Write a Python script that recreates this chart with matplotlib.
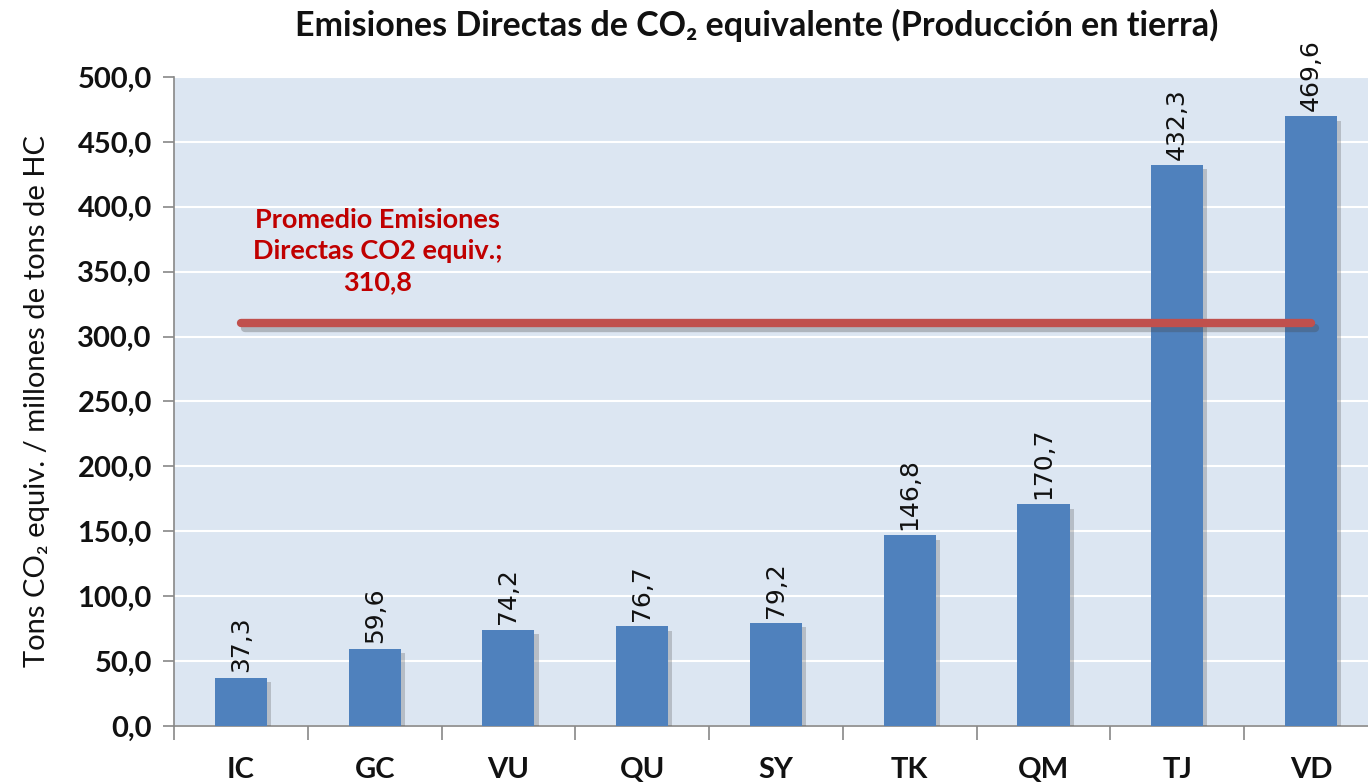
import matplotlib.pyplot as plt
import matplotlib.patheffects as pe
from matplotlib.ticker import MultipleLocator, FuncFormatter

categorias = ["IC", "GC", "VU", "QU", "SY", "TK", "QM", "TJ", "VD"]
emisiones = [37.3, 59.6, 74.2, 76.7, 79.2, 146.8, 170.7, 432.3, 469.6]
promedio = 310.8

azul = "#4F81BD"
rojo = "#C0504D"
fondo = "#DCE6F2"
fuente = ["Lato", "DejaVu Sans"]

fig = plt.figure(figsize=(13.68, 7.84), dpi=100)
ax = fig.add_axes([0.1272, 0.074, 0.880, 0.8278])
ax.set_facecolor(fondo)

x = range(len(categorias))
sombra = [pe.SimplePatchShadow(offset=(3, -3), shadow_rgbFace="#555555", alpha=0.28), pe.Normal()]
barras = ax.bar(x, emisiones, width=0.39, color=azul, zorder=3)
for b in barras:
    b.set_path_effects(sombra)

# etiquetas de valor, verticales sobre cada barra
for xi, v in zip(x, emisiones):
    ax.text(xi, v + 4, f"{v:.1f}".replace(".", ","), rotation=90, ha="center", va="bottom",
            fontsize=18, family="DejaVu Sans", color="#111111", zorder=4)

# línea del promedio
ax.plot([0, len(categorias) - 1], [promedio, promedio], color=rojo, lw=6,
        solid_capstyle="round", zorder=5,
        path_effects=[pe.SimpleLineShadow(offset=(3, -4), shadow_color="#444444", alpha=0.3), pe.Normal()])
ax.text(1.02, 366, "Promedio Emisiones\nDirectas CO2 equiv.;\n" + f"{promedio:.1f}".replace(".", ","),
        ha="center", va="center", color="#C00000", fontsize=19.5, fontweight="bold",
        family=fuente, linespacing=1.35, zorder=6)

ax.set_ylim(0, 500)
ax.set_xlim(-0.5, len(categorias) - 0.5)
ax.yaxis.set_major_locator(MultipleLocator(50))
ax.yaxis.set_major_formatter(FuncFormatter(lambda v, p: f"{v:.1f}".replace(".", ",")))
ax.grid(axis="y", color="white", lw=1.5, zorder=1)
ax.set_axisbelow(True)

ax.set_xticks(list(x))
ax.set_xticklabels(categorias)
ax.set_xticks([i - 0.5 for i in range(len(categorias) + 1)], minor=True)
ax.tick_params(axis="x", which="major", length=0, pad=22)
ax.tick_params(axis="x", which="minor", length=10, color="#888888", width=1.2)
ax.tick_params(axis="y", length=8, color="#888888", width=1.2, pad=8)
for lbl in ax.get_xticklabels() + ax.get_yticklabels():
    lbl.set_family(fuente)
    lbl.set_fontweight("bold")
    lbl.set_fontsize(21)
    lbl.set_color("#111111")

for s in ["top", "right"]:
    ax.spines[s].set_visible(False)
for s in ["left", "bottom"]:
    ax.spines[s].set_color("#888888")
    ax.spines[s].set_linewidth(1.2)

ax.set_ylabel("Tons CO₂ equiv. / millones de tons de HC", fontsize=21, family=fuente,
              color="#111111", labelpad=20)
fig.text(0.553, 0.968, "Emisiones Directas de CO₂ equivalente (Producción en tierra)",
         ha="center", va="center", fontsize=24.5, fontweight="bold", family=fuente, color="#111111")

fig.savefig("out.png", dpi=100)
